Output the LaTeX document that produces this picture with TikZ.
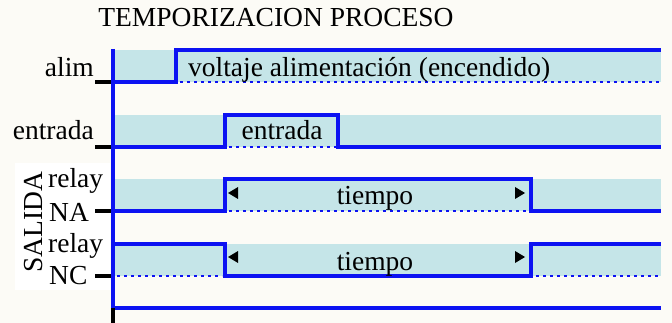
\documentclass[tikz,border=0pt]{standalone}
\usepackage{fontspec}
\setmainfont{Liberation Serif}
\definecolor{sigblue}{RGB}{12,18,242}
\definecolor{bandcyan}{RGB}{197,229,232}
\definecolor{bgcream}{RGB}{252,251,246}
\begin{document}
\begin{tikzpicture}[x=1pt,y=-1pt,
  sig/.style={draw=sigblue, line width=3.6pt},
  dots/.style={draw=sigblue, line width=2.8pt, dash pattern=on 2.8pt off 4.2pt},
  band/.style={fill=bandcyan},
  tickmark/.style={draw=black, line width=3.6pt},
  lbl/.style={font=\fontsize{27.5}{30}\selectfont, inner sep=0pt},
  tri/.style={fill=black}]
\useasboundingbox (0,0) rectangle (672,323);
\fill[bgcream] (0,0) rectangle (672,323);
\fill[white] (15,163) rectangle (110,290);
% bands
\path[band] (113,50) rectangle (661,82);
\path[band] (113,115) rectangle (661,147);
\path[band] (113,179) rectangle (661,211);
\path[band] (113,244) rectangle (661,276);
% dotted low levels
\draw[dots] (180,82) -- (661,82);
\draw[dots] (229,147) -- (336,147);
\draw[dots] (229,211) -- (528,211);
\draw[dots] (117,276) -- (222,276);
\draw[dots] (536,276) -- (661,276);
% signals
\draw[sig] (113,82) -- (176,82) -- (176,50) -- (661,50);
\draw[sig] (113,147) -- (225,147) -- (225,115) -- (338,115) -- (338,147) -- (661,147);
\draw[sig] (113,211) -- (225,211) -- (225,179) -- (531,179) -- (531,211) -- (661,211);
\draw[sig] (113,244) -- (225,244) -- (225,276) -- (531,276) -- (531,244) -- (661,244);
\draw[sig] (113,308) -- (661,308);
% axis
\draw[sig] (113,49) -- (113,308);
\draw[tickmark] (113,308) -- (113,323);
% ticks
\draw[tickmark] (95,82) -- (111,82);
\draw[tickmark] (95,147) -- (111,147);
\draw[tickmark] (95,211) -- (111,211);
\draw[tickmark] (95,276) -- (111,276);
% time arrows
\fill[tri] (228,193) -- (238,187) -- (238,199) -- cycle;
\fill[tri] (525,193) -- (515,187) -- (515,199) -- cycle;
\fill[tri] (228,257) -- (238,251) -- (238,263) -- cycle;
\fill[tri] (525,257) -- (515,251) -- (515,263) -- cycle;
% texts
\node[lbl, anchor=base] (title) at (276,27) {TEMPORIZACION PROCESO};
\node[lbl, anchor=base east] (lalim) at (94,77) {alim};
\node[lbl, anchor=base east] (lentrada) at (94,140) {entrada};
\node[lbl, anchor=base west] (lrelay1) at (48,188) {relay};
\node[lbl, anchor=base west] (lna) at (49,222) {NA};
\node[lbl, anchor=base west] (lrelay2) at (48,252) {relay};
\node[lbl, anchor=base west] (lnc) at (49,284) {NC};
\node[lbl, anchor=base, rotate=90] (lsalida) at (42,222.5) {SALIDA};
\node[lbl, anchor=base west] (talim) at (188,77) {voltaje alimentación (encendido)};
\node[lbl, anchor=base] (tentrada) at (282,140) {entrada};
\node[lbl, anchor=base] (ttiempo1) at (375,205) {tiempo};
\node[lbl, anchor=base] (ttiempo2) at (375,270) {tiempo};
\end{tikzpicture}
\end{document}
